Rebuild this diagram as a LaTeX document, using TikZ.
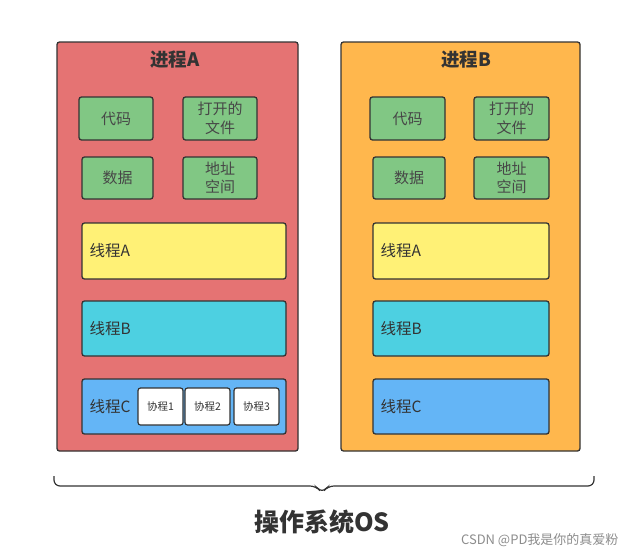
\documentclass[tikz,border=0pt]{standalone}
\usepackage{fontspec}
\setmainfont{Noto Sans CJK SC}
\usetikzlibrary{decorations.pathreplacing}
\definecolor{pred}{HTML}{E57373}
\definecolor{porange}{HTML}{FFB74D}
\definecolor{pgreen}{HTML}{81C784}
\definecolor{pyellow}{HTML}{FFF176}
\definecolor{pcyan}{HTML}{4DD0E1}
\definecolor{pblue}{HTML}{64B5F6}
\definecolor{edge}{HTML}{333333}
\tikzset{
  box/.style={draw=edge, line width=1.3pt, rounded corners=2.5pt},
  resbox/.style={box, fill=pgreen, font=\fontsize{15}{18.5}\selectfont, text=edge!90, align=center},
  thbox/.style={box},
  colbox/.style={box, fill=white, line width=1.2pt, font=\fontsize{10.5}{12}\selectfont, text=edge},
  lbl/.style={anchor=west, font=\fontsize{15.5}{18}\selectfont, text=edge},
  ttl/.style={font=\fontsize{18.5}{22}\selectfont\bfseries, text=edge},
}
\begin{document}
\begin{tikzpicture}[x=1pt,y=-1pt]
\useasboundingbox (0,0) rectangle (638,557);
% process A
\draw[box, fill=pred] (57,42) rectangle (298,451);
\node[ttl] (tA) at (175,60) {进程A};
\draw[box, fill=pgreen] (79,97) rectangle (153,140);
\node[resbox, draw=none, fill=none] (codeA) at (116,119) {代码};
\draw[box, fill=pgreen] (183,97) rectangle (257,140);
\node[resbox, draw=none, fill=none] (fileA) at (220,118.5) {打开的\\文件};
\draw[box, fill=pgreen] (82,157) rectangle (153,199);
\node[resbox, draw=none, fill=none] (dataA) at (117.5,178) {数据};
\draw[box, fill=pgreen] (183,157) rectangle (257,199);
\node[resbox, draw=none, fill=none] (addrA) at (220,178) {地址\\空间};
\draw[box, fill=pyellow] (82,223) rectangle (286,279);
\node[lbl] (thAA) at (86,251) {线程A};
\draw[box, fill=pcyan] (82,301) rectangle (286,356);
\node[lbl] (thAB) at (86,328.5) {线程B};
\draw[box, fill=pblue] (82,379) rectangle (286,434);
\node[lbl] (thAC) at (86,406.5) {线程C};
\draw[colbox] (138,388) rectangle (183,425);
\node[colbox, draw=none, fill=none] (co1) at (160.5,406.5) {协程1};
\draw[colbox] (185,388) rectangle (230,425);
\node[colbox, draw=none, fill=none] (co2) at (207.5,406.5) {协程2};
\draw[colbox] (234,388) rectangle (279,425);
\node[colbox, draw=none, fill=none] (co3) at (256.5,406.5) {协程3};
% process B
\draw[box, fill=porange] (341,42) rectangle (580,451);
\node[ttl] (tB) at (466,60) {进程B};
\draw[box, fill=pgreen] (370,97) rectangle (445,140);
\node[resbox, draw=none, fill=none] (codeB) at (407.5,119) {代码};
\draw[box, fill=pgreen] (474,97) rectangle (549,140);
\node[resbox, draw=none, fill=none] (fileB) at (511.5,118.5) {打开的\\文件};
\draw[box, fill=pgreen] (373,157) rectangle (445,199);
\node[resbox, draw=none, fill=none] (dataB) at (409,178) {数据};
\draw[box, fill=pgreen] (474,157) rectangle (549,199);
\node[resbox, draw=none, fill=none] (addrB) at (511.5,178) {地址\\空间};
\draw[box, fill=pyellow] (373,223) rectangle (549,279);
\node[lbl] (thBA) at (377,251) {线程A};
\draw[box, fill=pcyan] (373,301) rectangle (549,356);
\node[lbl] (thBB) at (377,328.5) {线程B};
\draw[box, fill=pblue] (373,379) rectangle (549,434);
\node[lbl] (thBC) at (377,406.5) {线程C};
% brace
\coordinate (bl) at (54,476);
\coordinate (br) at (594,476);
\draw[edge, line width=1.2pt, rounded corners=6pt] (bl) -- (54,486) -- (316,486) -- (322,493) -- (328,486) -- (594,486) -- (br);
\node[font=\fontsize{25}{30}\selectfont\bfseries, text=edge] (os) at (322,522) {操作系统OS};
\node[font=\fontsize{13}{15}\selectfont, text=black!45, anchor=east] (wm) at (622,540) {CSDN @PD我是你的真爱粉};
\end{tikzpicture}
\end{document}
